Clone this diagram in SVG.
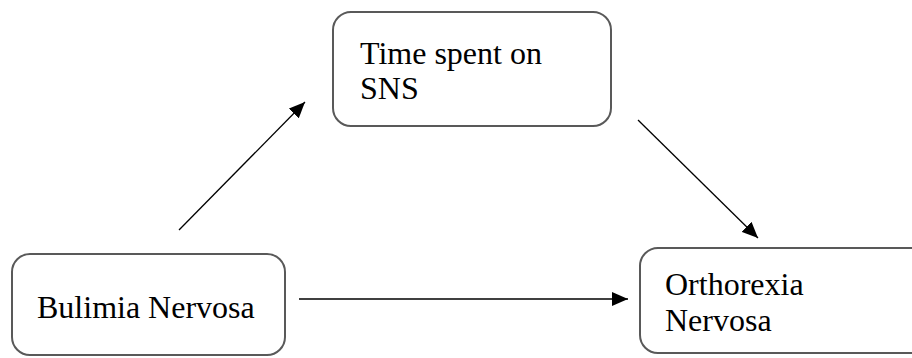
<svg xmlns="http://www.w3.org/2000/svg" width="912" height="358" viewBox="0 0 912 358">
  <style>
    .box { fill: #ffffff; stroke: #595959; stroke-width: 2; }
    .label { font-family: "Liberation Serif", "Times New Roman", serif; font-size: 32px; fill: #000000; }
    .link { stroke: #000000; stroke-width: 1.3; fill: none; marker-end: url(#head); }
  </style>
  <defs>
    <marker id="head" markerUnits="userSpaceOnUse" markerWidth="16" markerHeight="14" refX="16" refY="7" orient="auto">
      <path d="M0,0 L16,7 L0,14 Z" fill="#000000"/>
    </marker>
  </defs>
  <rect width="912" height="358" fill="#ffffff"/>

  <g id="connectors">
    <line class="link" x1="179" y1="230" x2="305" y2="102"/>
    <line class="link" x1="638" y1="120" x2="758" y2="238"/>
    <line class="link" x1="299" y1="299" x2="628" y2="299"/>
  </g>

  <g id="node-sns">
    <rect class="box" x="333" y="12" width="278" height="114" rx="18"/>
    <text class="label" x="360" y="64">Time spent on</text>
    <text class="label" x="360" y="99">SNS</text>
  </g>

  <g id="node-bulimia">
    <rect class="box" x="12" y="254" width="273" height="101" rx="18"/>
    <text class="label" x="37" y="318">Bulimia Nervosa</text>
  </g>

  <g id="node-orthorexia">
    <rect class="box" x="640" y="248" width="300" height="105" rx="18"/>
    <text class="label" x="665" y="295">Orthorexia</text>
    <text class="label" x="665" y="331">Nervosa</text>
  </g>
</svg>
